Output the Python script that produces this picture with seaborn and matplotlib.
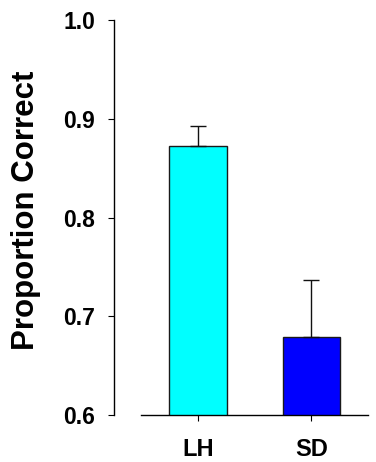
import matplotlib
matplotlib.use("Agg")
import matplotlib.pyplot as plt
import seaborn as sns
import pandas as pd

groups = ["LH", "SD"]
proportion_correct = [0.872, 0.679]
sem_upper = [0.021, 0.058]
bar_colors = ["#00FFFF", "#0000FF"]
y_ticks = [0.6, 0.7, 0.8, 0.9, 1.0]

sns.set_theme(style="ticks")
plt.rcParams["font.family"] = ["Liberation Sans", "DejaVu Sans"]
plt.rcParams["font.weight"] = "bold"
plt.rcParams["text.color"] = "black"
plt.rcParams["axes.labelcolor"] = "black"
plt.rcParams["xtick.color"] = "black"
plt.rcParams["ytick.color"] = "black"

df = pd.DataFrame({"group": groups, "value": proportion_correct})

fig = plt.figure(figsize=(3.76, 4.62), dpi=100)
ax = fig.add_axes([0.375, 0.1017, 0.604, 0.855])

sns.barplot(data=df, x="group", y="value", hue="group", palette=bar_colors,
            order=groups, hue_order=groups, legend=False, errorbar=None,
            width=0.507, edgecolor="#1a1a1a", linewidth=1.0, saturation=1.0, ax=ax)

ax.errorbar(range(len(groups)), proportion_correct,
            yerr=[[0] * len(groups), sem_upper], fmt="none",
            ecolor="#111111", elinewidth=1.0, capsize=6, capthick=1.0, zorder=1)

ax.set_xlim(-0.5, 1.5)
ax.set_ylim(0.6, 1.0)
ax.set_yticks(y_ticks)
ax.set_yticklabels([f"{t:.1f}" for t in y_ticks])

ax.set_xlabel("")
ax.set_ylabel("Proportion Correct", fontsize=22.5, fontweight="bold", color="black")
ax.yaxis.set_label_coords(0.11, 0.545, transform=fig.transFigure)

for side in ("top", "right"):
    ax.spines[side].set_visible(False)
ax.spines["left"].set_position(("outward", 19.4))
for side in ("left", "bottom"):
    ax.spines[side].set_color("black")
    ax.spines[side].set_linewidth(1.0)

ax.tick_params(axis="both", direction="out", length=4.3, width=0.8, color="black",
               labelcolor="black")
ax.tick_params(axis="y", labelsize=16.5, pad=9.5)
ax.tick_params(axis="x", labelsize=17, pad=12)
for lbl in ax.get_xticklabels() + ax.get_yticklabels():
    lbl.set_fontweight("bold")

fig.savefig("out.png", dpi=100)
